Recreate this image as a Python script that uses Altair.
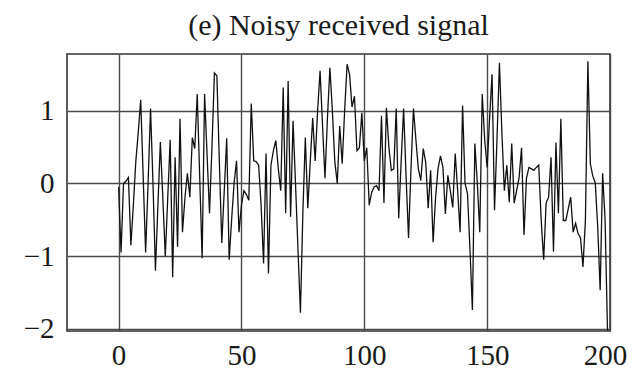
import altair as alt
import pandas as pd

values = [
    -0.05, -0.95, 0.00, 0.03, 0.08, -0.85, -0.30, 0.30, 0.70, 1.15,
    0.10, -0.95, 0.00, 1.03, 0.00, -1.20, -0.30, 0.57, -0.20, -1.00,
    -0.20, 0.60, -1.29, 0.36, -0.87, 0.89, -0.67, -0.20, 0.14, -0.19,
    0.63, 0.48, 1.23, 0.10, -1.03, 1.23, 0.40, -0.41, 0.50, 1.52,
    1.48, 0.30, -0.82, -0.10, 0.62, -1.05, -0.50, 0.00, 0.31, -0.67,
    -0.30, -0.10, -0.15, -0.23, 1.10, 0.31, 0.30, 0.25, -0.30, -1.10,
    0.41, -1.24, 0.25, 0.45, 0.59, 0.20, -0.10, 1.32, -0.41, 1.41,
    -0.46, 0.86, 0.00, -0.90, -1.78, -0.40, 0.63, -0.34, 0.30, 0.90,
    0.31, 1.00, 1.55, 0.80, 0.07, 0.90, 1.59, 1.00, 0.30, 0.00,
    0.79, 0.27, 1.00, 1.64, 1.50, 1.05, 1.20, 0.45, 0.49, 0.97,
    0.31, 0.49, -0.30, -0.12, -0.05, -0.03, -0.10, 0.93, -0.27, 1.04,
    0.50, 0.18, 0.20, 1.03, -0.48, 0.30, 1.03, 0.10, -0.75, 0.20,
    1.03, 0.60, 0.20, 0.04, 0.48, 0.29, -0.34, 0.18, -0.81, -0.20,
    0.20, 0.38, 0.22, -0.42, 0.11, -0.10, -0.33, 0.41, -0.10, -0.67,
    1.07, 0.00, -0.14, -0.90, -1.74, 0.55, 0.00, -0.67, 1.23, 0.60,
    0.22, 0.90, 1.50, -0.37, 0.60, 1.66, 0.70, -0.10, 0.25, -0.26,
    0.55, -0.27, -0.10, 0.08, 0.49, -0.71, 0.07, 0.22, 0.20, 0.18,
    0.22, 0.25, -0.51, -1.05, -0.27, -0.19, 0.36, -0.94, 0.56, -0.41,
    0.89, -0.51, -0.51, -0.35, -0.19, -0.67, -0.55, -0.69, -0.75, -1.15,
    -0.50, 1.68, 0.27, 0.10, 0.01, -0.60, -1.47, 0.14, -0.50, -2.05,
]
samples = list(range(len(values)))

x_ticks = [0, 50, 100, 150, 200]
y_ticks = [-2, -1, 0, 1]
title_text = "(e) Noisy received signal"

df = pd.DataFrame({"n": samples, "v": values})

FONT = "Liberation Serif"

chart = (
    alt.Chart(
        df,
        title=alt.Title(
            title_text, font=FONT, fontSize=30, fontWeight="normal",
            color="#1a1a1a", anchor="middle", offset=13,
        ),
    )
    .mark_line(color="#111111", strokeWidth=1.3, clip=True)
    .encode(
        x=alt.X(
            "n:Q",
            scale=alt.Scale(domain=[-21, 200], nice=False, zero=False),
            axis=alt.Axis(
                values=x_ticks, title=None, grid=True, ticks=False, domain=False,
                labelPadding=10, labelFontSize=29, labelFont=FONT,
                labelColor="#1a1a1a", gridColor="#4a4a4a", gridWidth=1.4,
                gridOpacity=1, labelFlush=False,
                labelOffset={"condition": {"test": "datum.value == 200", "value": -5}, "value": 0},
            ),
        ),
        y=alt.Y(
            "v:Q",
            scale=alt.Scale(domain=[-2.03, 1.78], nice=False, zero=False),
            axis=alt.Axis(
                values=y_ticks, title=None, grid=True, ticks=False, domain=False,
                labelPadding=13, labelFontSize=29, labelFont=FONT,
                labelColor="#1a1a1a", gridColor="#4a4a4a", gridWidth=1.4,
                gridOpacity=1, labelFlush=False,
            ),
        ),
    )
    .properties(
        width=543,
        height=277,
        autosize=alt.AutoSizeParams(type="none"),
        padding={"left": 59, "top": 46, "right": 17, "bottom": 38},
    )
    .configure(background="white")
    .configure_view(stroke="#333333", strokeWidth=1.6)
)

chart.save("out.html", embed_options={"renderer": "svg", "actions": False})
